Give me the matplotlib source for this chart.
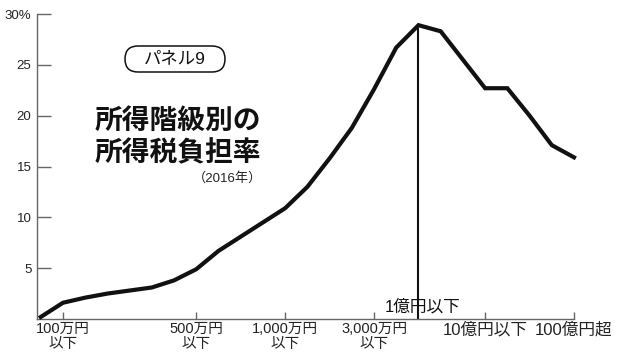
import matplotlib
matplotlib.use("Agg")
import matplotlib.pyplot as plt
from matplotlib.patches import FancyBboxPatch

# income brackets (NTA sample survey), tax burden rate in %
brackets = ["70万円以下", "100万円以下", "150万円以下", "200万円以下", "250万円以下",
            "300万円以下", "400万円以下", "500万円以下", "600万円以下", "700万円以下",
            "800万円以下", "1,000万円以下", "1,200万円以下", "1,500万円以下", "2,000万円以下",
            "3,000万円以下", "5,000万円以下", "1億円以下", "2億円以下", "5億円以下",
            "10億円以下", "20億円以下", "50億円以下", "100億円以下", "100億円超"]
rates = [0.2, 1.6, 2.1, 2.5, 2.8, 3.1, 3.8, 4.9, 6.7, 8.1, 9.5, 10.9, 13.0,
         15.8, 18.8, 22.6, 26.7, 28.9, 28.3, 25.5, 22.7, 22.7, 20.0, 17.1, 15.9]

small_ticks = ["100万円以下", "500万円以下", "1,000万円以下", "3,000万円以下"]
small_labels = ["100万円\n以下", "500万円\n以下", "1,000万円\n以下", "3,000万円\n以下"]
big_ticks = ["10億円以下", "100億円超"]
big_labels = ["10億円以下", "100億円超"]
marker_bracket = "1億円以下"
marker_label = "1億円以下"

y_ticks = [5, 10, 15, 20, 25, 30]
y_labels = ["5", "10", "15", "20", "25", "30%"]

fonts = ["Liberation Sans", "Noto Sans CJK JP"]
plt.rcParams["font.family"] = fonts

fig = plt.figure(figsize=(6.2, 3.57), dpi=100)
ax = fig.add_axes([37 / 620, 38 / 357, 537 / 620, 305 / 357])

x = list(range(len(brackets)))
ax.plot(x, rates, color="#111111", lw=3.0, solid_joinstyle="miter", clip_on=False, zorder=3)

mi = brackets.index(marker_bracket)
ax.plot([mi, mi], [0, 28.5], color="#111111", lw=1.5, zorder=2)
ax.text(mi + 0.2, 1.2, marker_label, ha="center", va="center", fontsize=12, color="#111111")

ax.set_xlim(-0.17, len(brackets) - 1)
ax.set_ylim(0, 30)

for s in ["top", "right"]:
    ax.spines[s].set_visible(False)
for s in ["left", "bottom"]:
    ax.spines[s].set_color("#666666")
    ax.spines[s].set_linewidth(1.0)

ax.set_yticks(y_ticks)
ax.set_yticklabels(y_labels, fontsize=9.5, color="#222222")
ax.tick_params(axis="y", direction="in", length=10, width=1, color="#666666", pad=4)

tick_pos = [brackets.index(b) for b in small_ticks] + [brackets.index(b) for b in big_ticks]
ax.set_xticks(tick_pos)
ax.set_xticklabels(small_labels + big_labels, fontsize=10.5, color="#222222", linespacing=1.1)
for lbl in ax.get_xticklabels()[len(small_labels):]:
    lbl.set_fontsize(12)
ax.tick_params(axis="x", direction="in", length=5, width=1, color="#666666", pad=2)

# title block
box = FancyBboxPatch((1.25, 2.85), 1.0, 0.26, boxstyle="round,pad=0,rounding_size=0.13",
                     transform=fig.dpi_scale_trans, fc="white", ec="#111111", lw=1.1)
fig.patches.append(box)
fig.text(175 / 620, 1 - 59 / 357, "パネル9", ha="center", va="center", fontsize=12.5,
         color="#111111")
fig.text(95 / 620, 1 - 121 / 357, "所得階級別の", ha="left", va="center", fontsize=20,
         fontweight="bold", color="#111111", family=["Noto Sans CJK JP"])
fig.text(95 / 620, 1 - 153 / 357, "所得税負担率", ha="left", va="center", fontsize=20,
         fontweight="bold", color="#111111", family=["Noto Sans CJK JP"])
fig.text(262 / 620, 1 - 178 / 357, "（2016年）", ha="right", va="center", fontsize=9.5,
         color="#222222")

fig.savefig("out.png", dpi=100)
